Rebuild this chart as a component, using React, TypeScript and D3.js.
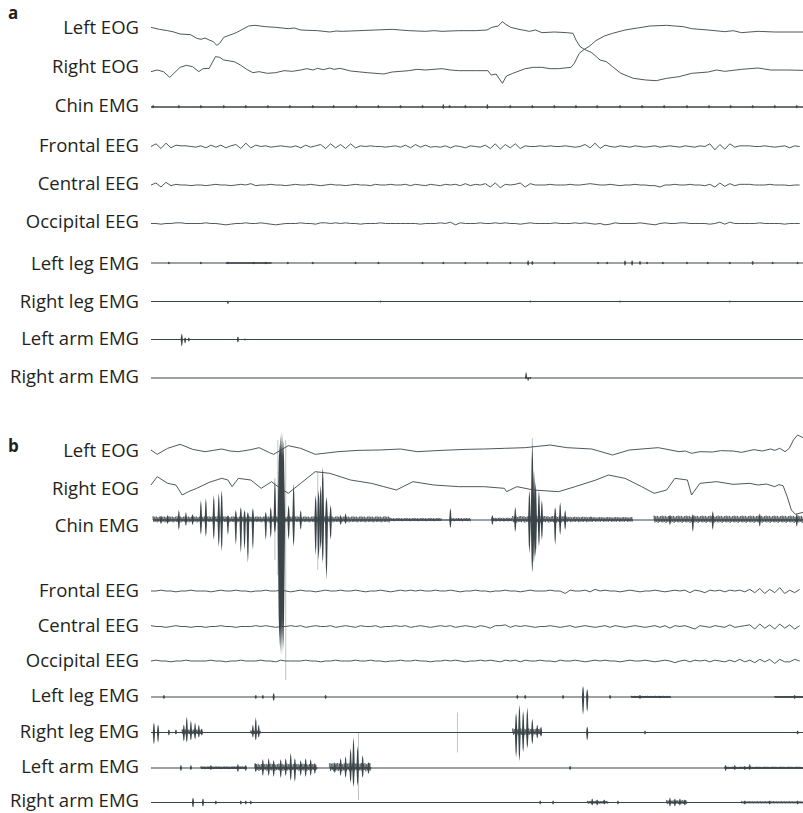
import React from 'react'
import * as d3 from 'd3'

const W = 803
const H = 813
const SAMPLES = 1568 // one 30 s epoch
const EEG_STEP = 12

// ---------- panel a (NREM) ----------
// EOG: [sample, µV]
const eogLeftA = [[0,8],[20,2],[40,-2],[55,-6],[70,-12],[95,-14],[110,-25],[120,-28],[130,-24],[140,-30],[150,-35],[158,-46],[165,-40],[175,-22],[190,-15],[205,-8],[220,2],[235,12],[250,14],[275,10],[300,8],[330,4],[345,6],[360,0],[400,-2],[430,-6],[445,-3],[460,-4],[500,-2],[540,0],[580,2],[600,0],[620,-2],[660,-4],[680,-2],[700,-4],[740,-2],[780,-2],[808,0],[820,8],[835,12],[845,25],[852,18],[865,8],[885,2],[910,-4],[925,0],[940,-8],[970,-6],[1000,-8],[1015,-10],[1022,-30],[1032,-50],[1042,-58],[1055,-48],[1070,-32],[1090,-18],[1110,-10],[1140,0],[1170,6],[1200,12],[1240,14],[1280,10],[1300,4],[1340,0],[1380,-5],[1400,-2],[1420,-8],[1460,-4],[1500,-6],[1568,-6]]
const eogRightA = [[0,-11],[15,-6],[30,-11],[45,-28],[55,-16],[70,2],[85,8],[100,4],[115,-11],[125,-2],[140,-1],[155,34],[165,32],[175,24],[200,19],[215,9],[230,-4],[245,-14],[260,-11],[280,-16],[300,-14],[320,-8],[340,-10],[360,-6],[375,-2],[390,-6],[400,-1],[415,-5],[430,0],[440,-4],[455,-1],[480,-9],[520,-14],[560,-18],[580,-12],[620,-8],[640,-4],[660,-6],[700,-2],[720,-6],[740,-8],[780,-8],[810,-8],[818,-21],[830,-18],[845,-46],[855,-24],[870,-16],[900,-2],[920,2],[940,2],[960,-2],[980,-2],[1010,2],[1018,14],[1030,44],[1042,56],[1060,46],[1080,24],[1095,19],[1110,4],[1130,-16],[1160,-31],[1190,-36],[1215,-38],[1240,-31],[1270,-26],[1300,-16],[1340,-12],[1360,-6],[1380,-10],[1420,-4],[1460,0],[1490,-6],[1530,-6],[1568,-7]]

// EEG sampled every EEG_STEP samples, µV
const frontalA = [0,4,-3,5,-2, 2,1,1,0,-1, 1,-2,2,-1,2,-2,1, 3,-3,5,-2,2, 0,1,-1,0,1,0,-1, 1,-2,2,-1,1, 3,-3,4,-2,3,-3,4,-2,1, 0,1,0,0,-1,0,1, -1,2,-2,3,-1,2,-1, 0,-1,1,-2,1,0,-2,1,0,-1, 2,-3,4,-4,3,-2,4,-3,1,0, 0,1,0,1,0,0,1,0,-1,0, 3,-2,5,-3,2, 0,-1,1,0,-1,1,0,-1,0,1,-1,0,1, 0,-1,1,0,-1,1, 0,4,-5,3,-4,4,-1, 1,1,1,0,0,1,0,-1,0, 1,-2,1,0]
const centralA = [0,3,-3,4,-1, 1,0,0,-1,0, 0,-1,0,1,0,0,-1,0,1,0, 2,-1,0, 0,1,0,0,-1,0,1,0,0,1,0,-1,0,1,0,0,-1,0,1,0,0,-1,1,0,0,1,0, 0,1,-1,1,0,-1,1,0,-1,1, 0,1,-1,2,-1,1,0, 2,-3,3,-4, 1,0,1, 3,-3,2, 0,0,0,1,0,0,0,1,0,0,1,2, 1,0,0,1,0,-1,0,0,1,0,0,-1,-1, -3, 0,0,1,0,0,1,0,0,-1, 1,-3,3,-2,2,-1, 1,1,1,0,0,0,1,0,0,0,-1,0,0]
const occipitalA = [0,0,-1,0,0,1,1,0,0,0, 0,1,0,0,-1,-2,-1,0,0,1, 0,0,1,0,-1,-2,-1,0,0,0, 1,0,0,-1,1,1,0,1,0,1, 0,0,-1,0,0,0,1,0,0,0, 0,0,0,0,-1,0,0,0,1,0, 2,-2,1,0,0,0,1,0,0,1, 0,1,0,0,-1,0,1,0,0,0, 0,1,0,0,0,1,0,1,0,-1, 0,-2,-1,1,0,0,0,0,1,0, -1,-2,0,1,0,0,1,1,0,0, 0,0,-1,0,2,-1,2,0,0,0, 0,0,1,0,0,0,0,-1,0,0,0]

// EMG: spikes [sample, up µV, down µV], bands [from, to, half-width µV]
const chinSpikesA = [[5,6,4],[67,6,4],[120,6,4],[175,6,4],[228,6,4],[281,6,4],[334,6,4],[389,6,4],[439,6,4],[494,6,4],[547,6,4],[600,6,4],[653,6,4],[703,9,6],[718,6,3],[756,6,4],[809,9,6],[864,6,4],[917,6,4],[970,6,4],[1022,6,4],[1073,6,4],[1128,6,4],[1181,6,4],[1234,6,4],[1289,6,4],[1342,6,4],[1394,6,4],[1447,6,4],[1500,6,4],[1553,6,4]]
const chinBandsA = [[0,1568,2.2]]
const leftLegSpikesA = [[43,4,4],[120,4,4],[185,4,4],[247,4,4],[276,4,4],[329,4,4],[389,4,4],[492,4,4],[547,4,4],[653,4,4],[703,4,4],[756,4,4],[809,4,4],[864,4,4],[907,8,8],[917,6,6],[970,4,4],[1075,4,4],[1097,4,4],[1140,8,8],[1157,8,8],[1176,6,6],[1193,4,4],[1231,4,4],[1289,4,4],[1339,4,4],[1392,4,4],[1447,6,6],[1495,4,4],[1555,4,4]]
const leftLegBandsA = [[0,1568,1.8],[180,290,2.6]]
const rightLegSpikesA = [[185,2,8],[552,3,3],[912,3,3],[1128,3,3],[1392,3,3]]
const rightLegBandsA = [[0,1568,1.8]]
const leftArmSpikesA = [[74,18,21],[82,6,12],[91,6,6],[209,9,9],[226,3,3]]
const leftArmBandsA = [[0,1568,1.8]]
const rightArmSpikesA = [[902,18,3],[907,3,9],[912,3,3]]
const rightArmBandsA = [[0,1568,1.8]]

// ---------- panel b (REM sleep behaviour) ----------
const eogLeftB = [[0,3],[15,-10],[40,8],[70,20],[100,5],[130,-2],[150,2],[170,6],[190,0],[210,-2],[240,4],[260,10],[285,-5],[295,-10],[330,16],[360,8],[395,-10],[450,-2],[500,2],[550,3],[600,6],[640,-2],[700,2],[760,5],[800,6],[850,8],[900,10],[930,14],[960,18],[1000,10],[1060,6],[1110,-12],[1150,3],[1200,8],[1220,10],[1270,-2],[1285,0],[1300,-7],[1320,-2],[1350,-3],[1370,1],[1400,0],[1420,-4],[1450,4],[1470,0],[1490,6],[1500,2],[1512,8],[1525,-2],[1535,8],[1545,33],[1555,48],[1568,40]]
const eogRightB = [[0,15],[15,40],[40,20],[60,15],[75,-15],[90,-5],[110,5],[140,23],[170,35],[185,30],[195,10],[210,35],[240,30],[265,5],[290,25],[300,15],[330,-10],[360,20],[395,55],[430,50],[480,30],[530,20],[560,10],[590,0],[630,25],[680,15],[740,10],[800,10],[850,5],[855,-5],[880,10],[920,0],[980,-5],[1020,10],[1070,30],[1100,45],[1140,35],[1180,10],[1210,-10],[1240,0],[1260,35],[1290,30],[1300,-15],[1320,20],[1360,25],[1400,17],[1440,20],[1460,15],[1480,18],[1500,10],[1510,16],[1520,13],[1530,-20],[1540,-60],[1550,-73],[1568,-67]]

const chinSpikesB = [[24,12,12],[40,15,12],[67,30,30],[84,24,18],[100,18,15],[120,60,45],[132,66,51],[151,75,60],[163,81,81],[170,90,95],[185,15,45],[204,30,75],[216,39,100],[225,30,90],[233,24,129],[245,36,90],[276,25,60],[288,39,54],[298,120,40],[309,230,380],[312,255,400],[315,264,405],[318,240,390],[331,45,60],[343,110,80],[360,30,30],[396,75,105],[403,90,120],[408,105,90],[413,160,130],[422,70,180],[432,45,60],[456,15,15],[468,20,12],[720,36,24],[821,15,15],[876,39,36],[910,90,100],[917,231,159],[921,150,130],[925,114,111],[933,90,80],[940,60,60],[972,39,75],[984,54,45],[996,30,30],[1248,15,15],[1303,18,36],[1351,27,30],[1464,20,20],[1553,20,20]]
const chinFaintB = [[298,126,120],[305,240,165],[324,240,480],[401,144,150],[413,150,120],[917,246,150]]
const chinBandsB = [[5,575,11],[575,700,6],[700,720,2],[720,770,6],[770,820,1.5],[820,870,7],[870,1000,12],[1000,1060,10],[1060,1160,9],[1160,1210,1.5],[1210,1568,13]]

const frontalB = [0,0,1,0,0,-1,0,0,1,0, 0,0,-1,0,1,0,0,1,0,0, -1,0,0,1,0,0,1,0,-1,0, 1,0,0,-1,0,1,0,0,1,0, 0,1,0,-1,0,0,1,0,-1,0, 1,0,1,0,1,0,0,1,0,0, 1,0,-1,0,0,1,0,0,-1,0, 0,1,0,0,-1,0,1,0,0,0, 1,0,0,-3,1,0,0,1,-1,2, 0,1,0,0,-1,0,1,0,-1,0, 0,1,0,-1,0,1,0,1,-2,1, 0,-2,1,0,1,-1,1,0,1,-1, 2,-2,3,-3,2,-2,4,-3,1,-2,2]
const centralB = [1,0,0,-1,0,1,0,0,-1,0, 0,-1,0,0,1,0,0,-1,0,0, 0,1,0,1,0,-1,0,0,1,0, 1,-1,0,1,0,0,1,-1,0,1, 0,-1,1,0,0,1,-1,0,0,1, 0,1,-1,0,1,0,-1,0,1,0, 1,-1,0,1,0,-1,1,0,-2,1, 1,2,-1,1,0,1,0,-1,0,0, 1,0,-1,0,1,-1,0,1,0,-1, 0,1,-1,1,0,-1,0,1,0,-1, 0,1,-1,1,-2,1,0,1,-1,-3, 1,0,-1,1,0,-1,2,-1,0,1, 2,-3,3,-2,2,-3,3,-2,2,-3,1]
const occipitalB = [0,1,0,0,-1,0,0,1,0,0, 0,0,1,0,0,-1,0,0,1,0, 0,0,1,0,0,-1,1,0,0,0, 0,1,0,0,-1,0,0,1,0,0, 0,1,0,0,1,0,0,-1,0,0, 1,0,0,1,0,0,-1,0,0,1, 0,1,0,-1,0,0,1,0,1,0, -1,1,0,1,-1,1,0,0,1,0, 0,-1,1,0,0,1,0,-1,0,1, 0,1,0,0,-1,0,1,0,0,1, 0,-1,0,1,0,-2,0,1,-1,1, 0,1,-1,1,0,-1,1,-1,2,-1, 1,-2,2,-1,2,-3,2,-1,-1,2,0]

const leftLegSpikesB = [[31,6,6],[252,6,6],[269,6,6],[295,12,12],[420,6,6],[881,6,6],[900,6,6],[991,6,6],[1039,33,54],[1049,24,45],[1104,6,6],[1176,6,6],[1224,4,4],[1548,6,6]]
const leftLegBandsB = [[0,1568,1.8],[1155,1250,3.5],[1500,1568,3]]
const rightLegSpikesB = [[7,30,36],[17,24,30],[43,9,9],[60,9,6],[79,24,27],[86,48,30],[96,36,24],[106,30,21],[115,24,15],[122,12,9],[245,24,15],[252,45,24],[259,24,15],[878,60,75],[886,84,87],[895,66,60],[905,75,48],[917,42,36],[929,24,18],[938,18,12],[1049,18,24],[1188,6,6],[1555,6,6]]
const rightLegFaintB = [[737,60,60]]
const rightLegBandsB = [[0,1568,1.8],[75,125,9],[240,265,6],[870,940,12]]
const leftArmSpikesB = [[72,9,9],[96,9,6],[144,9,6],[209,12,12],[228,9,9],[252,15,12],[269,27,24],[283,30,24],[295,24,27],[312,27,30],[324,30,24],[336,45,39],[346,30,42],[360,24,24],[372,30,27],[384,27,24],[394,15,18],[442,18,15],[456,30,24],[468,36,30],[480,60,45],[487,93,57],[497,66,54],[509,39,30],[523,18,18],[1008,6,6],[1382,9,9],[1404,9,6],[1428,6,6],[1440,12,6]]
const leftArmFaintB = [[499,108,96]]
const leftArmBandsB = [[0,1568,1.8],[120,230,5],[250,400,13],[430,530,15],[1380,1568,4]]
const rightArmSpikesB = [[101,15,15],[125,12,12],[156,6,6],[216,6,6],[228,6,6],[240,6,6],[936,6,6],[967,6,6],[1061,12,9],[1073,9,9],[1090,9,6],[1123,6,6],[1248,15,12],[1260,12,12],[1272,12,9],[1284,9,9],[1428,6,6],[1488,6,6],[1555,6,6]]
const rightArmBandsB = [[0,1568,1.8],[1050,1100,5],[1240,1290,7],[1420,1568,3.5]]

const INK = '#3b4549'
const TEXT = '#231f20'
const FONT = "'Open Sans', sans-serif"
// fixed hatch rhythm used to texture noise bands
const HATCH = [1, 0.55, 0.85, 0.4, 0.95, 0.65, 0.75, 0.45, 0.9, 0.5]
const x = d3.scaleLinear().domain([0, SAMPLES]).range([151, 803])

type Row = {
  label: string
  traceY: number
  labelY: number
  sens: number // µV per pixel
  pairs?: number[][]
  eeg?: number[]
  spikes?: number[][]
  faint?: number[][]
  bands?: number[][]
}

const rowsA: Row[] = [
  { label: 'Left EOG', traceY: 30, labelY: 34, sens: 3, pairs: eogLeftA },
  { label: 'Right EOG', traceY: 68, labelY: 73, sens: 3, pairs: eogRightA },
  { label: 'Chin EMG', traceY: 107, labelY: 112, sens: 3, spikes: chinSpikesA, bands: chinBandsA },
  { label: 'Frontal EEG', traceY: 146.5, labelY: 152, sens: 1.5, eeg: frontalA },
  { label: 'Central EEG', traceY: 185, labelY: 190, sens: 1.5, eeg: centralA },
  { label: 'Occipital EEG', traceY: 223.5, labelY: 228, sens: 1.5, eeg: occipitalA },
  { label: 'Left leg EMG', traceY: 263, labelY: 270, sens: 3, spikes: leftLegSpikesA, bands: leftLegBandsA },
  { label: 'Right leg EMG', traceY: 301.5, labelY: 308, sens: 3, spikes: rightLegSpikesA, bands: rightLegBandsA },
  { label: 'Left arm EMG', traceY: 339.5, labelY: 345, sens: 3, spikes: leftArmSpikesA, bands: leftArmBandsA },
  { label: 'Right arm EMG', traceY: 378, labelY: 383, sens: 3, spikes: rightArmSpikesA, bands: rightArmBandsA },
]

const rowsB: Row[] = [
  { label: 'Left EOG', traceY: 451, labelY: 457, sens: 3, pairs: eogLeftB },
  { label: 'Right EOG', traceY: 490, labelY: 495, sens: 3, pairs: eogRightB },
  { label: 'Chin EMG', traceY: 520, labelY: 532, sens: 3, spikes: chinSpikesB, faint: chinFaintB, bands: chinBandsB },
  { label: 'Frontal EEG', traceY: 591, labelY: 597, sens: 1.2, eeg: frontalB },
  { label: 'Central EEG', traceY: 626.5, labelY: 632, sens: 1.2, eeg: centralB },
  { label: 'Occipital EEG', traceY: 661, labelY: 667, sens: 1.2, eeg: occipitalB },
  { label: 'Left leg EMG', traceY: 697, labelY: 702, sens: 3, spikes: leftLegSpikesB, bands: leftLegBandsB },
  { label: 'Right leg EMG', traceY: 732.5, labelY: 738, sens: 3, spikes: rightLegSpikesB, faint: rightLegFaintB, bands: rightLegBandsB },
  { label: 'Left arm EMG', traceY: 768, labelY: 773, sens: 3, spikes: leftArmSpikesB, faint: leftArmFaintB, bands: leftArmBandsB },
  { label: 'Right arm EMG', traceY: 802.5, labelY: 807, sens: 3, spikes: rightArmSpikesB, bands: rightArmBandsB },
]

function bandPath(x0: number, x1: number, y0: number, hw: number) {
  let d = `M${x0},${y0}`
  let k = 0
  for (let px = x0; px <= x1; px += 0.8, k++) {
    const a = hw * HATCH[k % HATCH.length]
    d += `L${px.toFixed(2)},${(k % 2 ? y0 + a : y0 - a).toFixed(2)}`
  }
  return d
}

function Trace({ row }: { row: Row }) {
  const y = d3.scaleLinear().domain([0, row.sens]).range([row.traceY, row.traceY - 1])
  const line = d3.line<number[]>().x(d => x(d[0])).y(d => y(d[1]))
  const parts: React.ReactNode[] = []

  if (row.pairs) {
    parts.push(<path key="l" d={line(row.pairs) || ''} fill="none" stroke={INK} strokeWidth={0.9} strokeLinejoin="round" />)
  }
  if (row.eeg) {
    const pts = row.eeg.map((v, i) => [i * EEG_STEP, v])
    parts.push(<path key="e" d={line(pts) || ''} fill="none" stroke={INK} strokeWidth={0.9} strokeLinejoin="round" />)
  }
  if (row.bands) {
    row.bands.forEach((b, i) => {
      const hw = b[2] / row.sens
      if (hw < 1) {
        parts.push(<line key={'b' + i} x1={x(b[0])} x2={x(b[1])} y1={row.traceY} y2={row.traceY} stroke={INK} strokeWidth={Math.max(1, hw * 2)} />)
      } else {
        parts.push(<line key={'bl' + i} x1={x(b[0])} x2={x(b[1])} y1={row.traceY} y2={row.traceY} stroke={INK} strokeWidth={1.5} />)
        parts.push(<path key={'b' + i} d={bandPath(x(b[0]), x(b[1]), row.traceY, hw)} fill="none" stroke={INK} strokeWidth={0.7} />)
      }
    })
  }
  if (row.faint) {
    row.faint.forEach((s, i) => {
      parts.push(
        <line key={'f' + i} x1={x(s[0])} x2={x(s[0])} y1={y(s[1])} y2={y(-s[2])} stroke={INK} strokeOpacity={0.4} strokeWidth={0.8} />
      )
    })
  }
  if (row.spikes) {
    row.spikes.forEach((s, i) => {
      const cx = x(s[0])
      const top = y(s[1])
      const bot = y(-s[2])
      const w = 1.1 + Math.max(s[1], s[2]) / row.sens * 0.006
      const y0 = row.traceY
      const d = `M${cx - w},${y0}L${cx - w * 0.45},${y0 + (top - y0) * 0.75}L${cx},${top}L${cx + w * 0.45},${y0 + (top - y0) * 0.75}L${cx + w},${y0}` +
        `L${cx + w * 0.45},${y0 + (bot - y0) * 0.75}L${cx},${bot}L${cx - w * 0.45},${y0 + (bot - y0) * 0.75}Z`
      parts.push(<path key={'s' + i} d={d} fill={INK} />)
    })
  }
  return <g>{parts}</g>
}

function Panel({ rows, letter, letterY }: { rows: Row[]; letter: string; letterY: number }) {
  return (
    <g>
      <text x={8} y={letterY} fontFamily={FONT} fontWeight={700} fontSize={17} fill={TEXT}>{letter}</text>
      {rows.map(r => (
        <text key={r.label} x={139} y={r.labelY} textAnchor="end" fontFamily={FONT} fontSize={18.5} fill={TEXT}>{r.label}</text>
      ))}
      {rows.map(r => <Trace key={r.label} row={r} />)}
    </g>
  )
}

export default function App() {
  return (
    <svg width={W} height={H} viewBox={`0 0 ${W} ${H}`} style={{ position: 'absolute', left: 0, top: 0, background: '#fff' }}>
      <rect width={W} height={H} fill="#fff" />
      <Panel rows={rowsA} letter="a" letterY={19} />
      <Panel rows={rowsB} letter="b" letterY={452} />
    </svg>
  )
}
